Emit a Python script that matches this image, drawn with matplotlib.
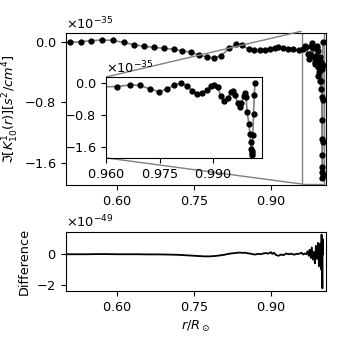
import numpy as np
import matplotlib
matplotlib.use("Agg")
import matplotlib.pyplot as plt
from mpl_toolkits.axes_grid1.inset_locator import mark_inset

plt.rcParams['axes.formatter.use_mathtext'] = True
plt.rcParams['font.size'] = 9.3

# kernel samples (units of 1e-35 s^2/cm^4)
r_pts = [0.508, 0.529, 0.549, 0.570, 0.591, 0.613, 0.632, 0.652, 0.672, 0.691,
         0.711, 0.727, 0.744, 0.760, 0.775, 0.790, 0.803, 0.819, 0.832, 0.844,
         0.857, 0.868, 0.878, 0.888, 0.898, 0.908, 0.914, 0.924, 0.934, 0.944,
         0.954, 0.963, 0.9666, 0.9694, 0.9724, 0.9748, 0.9771, 0.9791, 0.981, 0.9827,
         0.9841, 0.9855, 0.9869, 0.9881, 0.9893, 0.9902, 0.9912, 0.9921, 0.9930, 0.9940,
         0.9949, 0.9954, 0.9960, 0.9968, 0.9973, 0.9977, 0.9984, 0.9988, 0.9991, 0.9994,
         0.9999, 1.0002, 1.0004, 1.0006, 1.0007, 1.0008, 1.0009, 1.0010, 1.0012, 1.0014,
         1.0016]
k_pts = [-0.009, 0.000, 0.014, 0.023, 0.018, -0.009, -0.037, -0.060, -0.073, -0.087,
         -0.100, -0.119, -0.140, -0.174, -0.205, -0.212, -0.183, -0.085, -0.032, -0.046,
         -0.100, -0.115, -0.110, -0.105, -0.097, -0.083, -0.073, -0.083, -0.091, -0.100,
         -0.110, -0.100, -0.059, -0.067, -0.160, -0.227, -0.160, -0.059, -0.017, -0.084,
         -0.200, -0.295, -0.270, -0.185, -0.076, -0.059, -0.118, -0.337, -0.455, -0.396,
         -0.227, -0.200, -0.310, -0.520, -0.620, -0.520, -0.337, -0.270, -0.354, -0.730,
         -1.030, -1.280, -1.490, -1.660, -1.720, -1.800, -1.760, -1.320, -0.775, -0.310,
         0.000]

# model curve starts at the left edge
r_line = [0.500] + r_pts
k_line = [-0.010] + k_pts

# difference (units of 1e-49)
r_diff = [0.50, 0.52, 0.54, 0.56, 0.58, 0.60, 0.62, 0.64, 0.66, 0.68,
          0.70, 0.72, 0.74, 0.76, 0.77, 0.78, 0.79, 0.80, 0.81, 0.815,
          0.820, 0.825, 0.830, 0.835, 0.840, 0.845, 0.850, 0.855, 0.860, 0.865,
          0.870, 0.875, 0.880, 0.885, 0.890, 0.895, 0.900, 0.903, 0.906, 0.910,
          0.915, 0.920, 0.925, 0.930, 0.935, 0.940, 0.945, 0.950, 0.955, 0.960,
          0.963, 0.966, 0.969, 0.972, 0.974, 0.976, 0.978, 0.980, 0.982, 0.984,
          0.986, 0.988, 0.990, 0.992, 0.994, 0.996, 0.998, 0.999, 1.000, 1.0006,
          1.0012, 1.0016]
d_diff = [0.00, 0.00, 0.00, 0.01, 0.01, 0.00, 0.00, 0.00, -0.01, -0.01,
          -0.02, -0.04, -0.08, -0.12, -0.14, -0.14, -0.12, -0.08, -0.03, 0.01,
          0.04, 0.06, 0.08, 0.10, 0.11, 0.09, 0.10, 0.06, 0.04, 0.00,
          -0.02, 0.03, 0.00, 0.05, 0.08, 0.04, 0.14, 0.02, 0.10, -0.05,
          -0.10, -0.02, -0.06, 0.05, 0.00, 0.04, -0.03, 0.02, 0.03, 0.10,
          -0.02, 0.05, 0.00, 0.20, -0.10, 0.30, -0.25, 0.45, -0.35, 0.15,
          -0.60, 0.55, -0.30, 0.75, -0.80, 0.70, -1.00, 1.30, -0.50, -2.25,
          1.00, 0.00]

r_pts = np.array(r_pts)
k_pts = np.array(k_pts) * 1e-35
r_line = np.array(r_line)
k_line = np.array(k_line) * 1e-35
d_diff = np.array(d_diff) * 1e-49

fig = plt.figure(figsize=(3.38, 3.38), dpi=100)
ax = fig.add_axes([0.195, 0.453, 0.77, 0.449])
ax.plot(r_line, k_line, '-', color='0.5', lw=1.2)
ax.plot(r_pts, k_pts, 'o', color='k', ms=3.5)
ax.set_xlim(0.5, 1.008)
ax.set_xticks([0.60, 0.75, 0.90])
ax.set_yticks([0, -0.8e-35, -1.6e-35])
ax.set_ylabel(r'$\Im[K^{1}_{10}(r)][s^2/cm^4]$', labelpad=2)

axins = ax.inset_axes([0.154, 0.178, 0.6, 0.533])
axins.plot(r_line, k_line, '-', color='0.5', lw=1.2)
axins.plot(r_pts, k_pts, 'o', color='k', ms=3.5)
axins.set_xlim(0.96, 1.0036)
axins.set_ylim(-1.88e-35, 0.14e-35)
axins.set_xticks([0.960, 0.975, 0.990])
axins.set_yticks([0, -0.8e-35, -1.6e-35])
mark_inset(ax, axins, loc1=2, loc2=3, fc='none', ec='0.5')

ax2 = fig.add_axes([0.195, 0.139, 0.77, 0.175])
ax2.plot(r_diff, d_diff, 'k-', lw=1.3)
ax2.set_xlim(0.5, 1.008)
ax2.set_xticks([0.60, 0.75, 0.90])
ax2.set_yticks([0, -2e-49])
ax2.set_ylabel('Difference')
ax2.set_xlabel(r'$r/R_\odot$')

fig.savefig("out.png")
